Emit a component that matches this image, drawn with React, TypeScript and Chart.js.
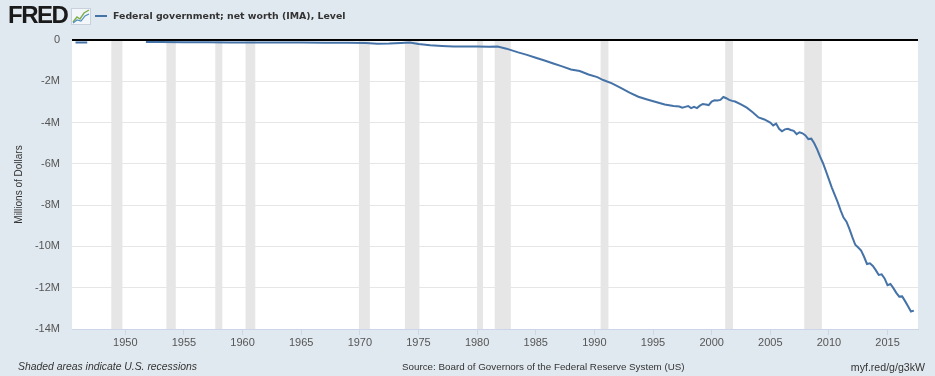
import React, { useEffect, useRef } from "react";
import { Chart, registerables } from "chart.js";

Chart.register(...registerables);

// ---- Data ----
const years: number[] = [
  1945.75, 1946.75, 1949,
  1951.75, 1953, 1955, 1957, 1959, 1961, 1963, 1965, 1967, 1969,
  1970.5, 1971.5, 1972.5, 1973.5, 1974.25, 1975, 1976, 1977, 1978, 1979,
  1980, 1981, 1981.75, 1982.5, 1983.5, 1984.25, 1985, 1985.75, 1986.5,
  1987.25, 1988, 1988.75, 1989.5, 1990.25, 1990.75, 1991.5, 1992.25, 1993,
  1993.75, 1994.5, 1995.25, 1996, 1996.75, 1997.25, 1997.5, 1997.75, 1998,
  1998.25, 1998.5, 1998.75, 1999, 1999.25, 1999.5, 1999.75, 2000, 2000.25,
  2000.5, 2000.75, 2001, 2001.25, 2001.5, 2001.75, 2002, 2002.5, 2003,
  2003.5, 2004, 2004.5, 2005, 2005.25, 2005.5, 2005.75, 2006, 2006.25,
  2006.5, 2006.75, 2007, 2007.25, 2007.5, 2007.75, 2008, 2008.25, 2008.5,
  2008.75, 2009, 2009.25, 2009.5, 2009.75, 2010, 2010.25, 2010.5, 2010.75,
  2011, 2011.25, 2011.5, 2011.75, 2012, 2012.25, 2012.5, 2012.75, 2013,
  2013.25, 2013.5, 2013.75, 2014, 2014.25, 2014.5, 2014.75, 2015, 2015.25,
  2015.5, 2015.75, 2016, 2016.25, 2016.5, 2016.75, 2017, 2017.25,
];

// Net worth in millions of dollars, expressed in "M" units (e.g. -2 => -2M)
const netWorth: (number | null)[] = [
  -0.12, -0.12, null,
  -0.10, -0.10, -0.11, -0.11, -0.12, -0.12, -0.12, -0.12, -0.13, -0.13,
  -0.15, -0.18, -0.17, -0.14, -0.12, -0.19, -0.25, -0.29, -0.32, -0.32,
  -0.31, -0.33, -0.32, -0.42, -0.60, -0.72, -0.86, -0.99, -1.14,
  -1.28, -1.43, -1.50, -1.67, -1.80, -1.94, -2.10, -2.32, -2.55,
  -2.75, -2.88, -3.00, -3.12, -3.20, -3.22, -3.28, -3.24, -3.20,
  -3.30, -3.24, -3.30, -3.18, -3.10, -3.12, -3.15, -2.98, -2.92,
  -2.93, -2.90, -2.76, -2.82, -2.90, -2.95, -2.98, -3.12, -3.28,
  -3.50, -3.75, -3.85, -4.00, -4.14, -4.05, -4.30, -4.42, -4.33,
  -4.30, -4.36, -4.40, -4.56, -4.47, -4.52, -4.62, -4.80, -4.78,
  -5.00, -5.30, -5.65, -5.97, -6.35, -6.75, -7.15, -7.50, -7.85,
  -8.25, -8.60, -8.80, -9.15, -9.55, -9.92, -10.05, -10.20, -10.50,
  -10.85, -10.82, -10.95, -11.15, -11.38, -11.35, -11.55, -11.88, -11.82,
  -12.02, -12.25, -12.43, -12.42, -12.65, -12.90, -13.15, -13.11,
];

const xTickYears: number[] = [1950, 1955, 1960, 1965, 1970, 1975, 1980, 1985, 1990, 1995, 2000, 2005, 2010, 2015];
const yTickValues: number[] = [-14, -12, -10, -8, -6, -4, -2, 0];

const recessionStarts: number[] = [1948.8, 1953.5, 1957.67, 1960.25, 1969.92, 1973.84, 1980.0, 1981.5, 1990.53, 2001.16, 2007.9];
const recessionEnds: number[] = [1949.75, 1954.3, 1958.27, 1961.08, 1970.85, 1975.08, 1980.5, 1982.87, 1991.2, 2001.82, 2009.4];

const FONT = "'Liberation Sans', Arial, sans-serif";

const recessionPlugin = {
  id: "recessionShading",
  beforeDraw(chart: any) {
    const { ctx, chartArea, scales } = chart;
    const x = scales.x;
    ctx.save();
    ctx.fillStyle = "#ffffff";
    ctx.fillRect(chartArea.left, chartArea.top, chartArea.right - chartArea.left, chartArea.bottom - chartArea.top);
    ctx.fillStyle = "#e6e6e6";
    recessionStarts.forEach((s, i) => {
      const x0 = x.getPixelForValue(s);
      const x1 = x.getPixelForValue(recessionEnds[i]);
      ctx.fillRect(x0, chartArea.top, x1 - x0, chartArea.bottom - chartArea.top);
    });
    ctx.restore();
  },
};

function FredChart() {
  const canvasRef = useRef<HTMLCanvasElement | null>(null);

  useEffect(() => {
    if (!canvasRef.current) return;
    const chart = new Chart(canvasRef.current, {
      type: "line",
      data: {
        datasets: [
          {
            data: years.map((x, i) => ({ x, y: netWorth[i] })) as any,
            borderColor: "#4572a7",
            borderWidth: 2,
            pointRadius: 0,
            tension: 0,
            spanGaps: false,
          },
        ],
      },
      options: {
        animation: false,
        responsive: false,
        maintainAspectRatio: false,
        layout: { padding: { left: 8, top: 40, right: 17, bottom: 27 } },
        plugins: { legend: { display: false }, tooltip: { enabled: false } },
        scales: {
          x: {
            type: "linear",
            min: 1945.45,
            max: 2017.6,
            afterBuildTicks: (s: any) => {
              s.ticks = xTickYears.map((v) => ({ value: v }));
            },
            afterFit: (s: any) => {
              s.height = 20;
            },
            grid: { drawOnChartArea: false, drawTicks: true, tickLength: 6, color: "#ccd6eb", tickColor: "#ccd6eb" },
            border: { display: true, color: "#ccd6eb", width: 1 },
            ticks: {
              autoSkip: false,
              maxRotation: 0,
              padding: 1,
              color: "#555555",
              font: { family: FONT, size: 11 },
              callback: (v: any) => String(v),
            },
          },
          y: {
            type: "linear",
            min: -14,
            max: 0,
            afterBuildTicks: (s: any) => {
              s.ticks = yTickValues.map((v) => ({ value: v }));
            },
            afterFit: (s: any) => {
              s.width = 64;
            },
            grid: {
              drawTicks: false,
              color: (c: any) => (c.tick && c.tick.value === 0 ? "#000000" : "#e6e6e6"),
              lineWidth: (c: any) => (c.tick && c.tick.value === 0 ? 2 : 1),
            },
            border: { display: false },
            ticks: {
              padding: 12,
              color: "#555555",
              font: { family: FONT, size: 11 },
              callback: (v: any) => (v === 0 ? "0" : `${v}M`),
            },
            title: {
              display: true,
              text: "Millions of Dollars",
              color: "#333333",
              font: { family: FONT, size: 10 },
              padding: { top: 5, bottom: 0 },
            },
          },
        },
      },
      plugins: [recessionPlugin],
    });
    return () => chart.destroy();
  }, []);

  return <canvas ref={canvasRef} width={935} height={376} style={{ position: "absolute", left: 0, top: 0, width: 935, height: 376 }} />;
}

export default function App() {
  return (
    <div
      style={{
        position: "absolute",
        left: 0,
        top: 0,
        width: 935,
        height: 376,
        background: "#e1e9f0",
        overflow: "hidden",
        fontFamily: FONT,
      }}
    >
      <FredChart />
      {/* FRED logo */}
      <div
        style={{
          position: "absolute",
          left: 8,
          top: 1,
          fontFamily: FONT,
          fontWeight: 900,
          fontSize: 24,
          letterSpacing: -1.5,
          color: "#1a1a1a",
          lineHeight: "28px",
        }}
      >
        FRED
      </div>
      <svg style={{ position: "absolute", left: 71, top: 8 }} width={20} height={17} viewBox="0 0 20 17">
        <rect x={0.5} y={0.5} width={19} height={16} fill="#f4f7fa" stroke="#c8d2dc" strokeWidth={1} />
        <polyline points="2,14 6,9 9,11 13,5 18,2" fill="none" stroke="#7fae4a" strokeWidth={1.4} />
        <polyline points="2,15 6,12 10,13 14,8 18,6" fill="none" stroke="#4f8fc4" strokeWidth={1.2} />
      </svg>
      {/* Legend */}
      <div style={{ position: "absolute", left: 95, top: 15, width: 12, height: 2, background: "#4572a7" }} />
      <div
        style={{
          position: "absolute",
          left: 113,
          top: 9,
          fontFamily: "'DejaVu Sans', Verdana, sans-serif",
          fontWeight: "bold",
          fontSize: 9.4,
          color: "#333333",
          lineHeight: "14px",
          whiteSpace: "nowrap",
        }}
      >
        Federal government; net worth (IMA), Level
      </div>
      {/* Footer */}
      <div
        style={{
          position: "absolute",
          left: 18,
          top: 360,
          fontSize: 10.4,
          fontStyle: "italic",
          color: "#333333",
          lineHeight: "14px",
          whiteSpace: "nowrap",
        }}
      >
        Shaded areas indicate U.S. recessions
      </div>
      <div
        style={{
          position: "absolute",
          left: 402,
          top: 360,
          fontSize: 9.8,
          color: "#333333",
          lineHeight: "14px",
          whiteSpace: "nowrap",
        }}
      >
        Source: Board of Governors of the Federal Reserve System (US)
      </div>
      <div
        style={{
          position: "absolute",
          right: 10,
          top: 360,
          fontSize: 10.6,
          color: "#333333",
          lineHeight: "14px",
          whiteSpace: "nowrap",
        }}
      >
        myf.red/g/g3kW
      </div>
    </div>
  );
}
